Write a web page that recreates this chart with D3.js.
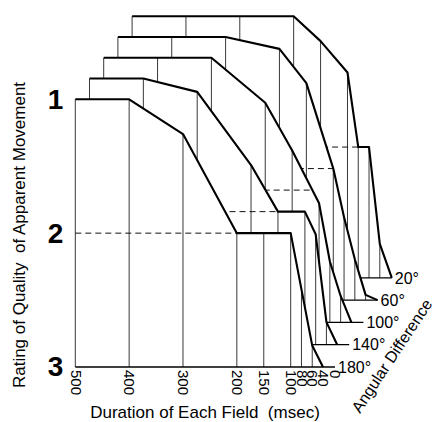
<!DOCTYPE html>
<html>
<head>
<meta charset="utf-8">
<script src="https://cdn.jsdelivr.net/npm/d3@7/dist/d3.min.js"></script>
<style>
	body { margin: 0; background: #fff; }
	svg text { font-family: "Liberation Sans", Arial, Helvetica, sans-serif; fill: #000; }
</style>
</head>
<body>
<div id="chart"></div>
<script>
// 데이터: 지속시간(msec)과 각도별 평정값 (1 = 좋음, 3 = 나쁨)
const durations = [500, 400, 300, 200, 150, 100, 80, 60, 40, 0];
const durationLabels = ["500", "400", "300", "200", "150", "100", "80", "60", "40", "0"];
const angleLabels = ["180°", "140°", "100°", "60°", "20°"]; // 앞 → 뒤
const rating180 = [1, 1, 1.26, 2, 2, 2, 2.42, 2.84, 3, 3];
const rating140 = [1, 1, 1.1, 1.65, 2, 2, 2.17, 2.83, 3, 3];
const rating100 = [1, 1, 1, 1.34, 1.7, 2.1, 2.54, 2.8, 3, 3];
const rating60 = [1, 1, 1, 1.09, 1.35, 2.0, 2.37, 2.69, 2.96, 3];
const rating20 = [1, 1, 1, 1, 1.19, 1.43, 2, 2, 2.74, 3];
const ratingTicks = [1, 2, 3];

const seriesRatings = [rating180, rating140, rating100, rating60, rating20];

const width = 442, height = 422;

const svg = d3.select("#chart").append("svg")
	.attr("width", width)
	.attr("height", height);

// 앞면 기준 축척
const xFront = d3.scaleLinear().domain([500, 40, 0]).range([75.3, 323, 335]);
const yFront = d3.scaleLinear().domain([1, 3]).range([99.3, 367]);

// 깊이(뒤로 갈수록) 이동량
const depthDx = 14.2;
const depthDyTop = -20.75;
const depthDyBase = -22.3;

function xOf(k) {
	return d => xFront(d) + k * depthDx;
}
function yOf(k) {
	return d3.scaleLinear().domain([1, 3])
		.range([yFront(1) + k * depthDyTop, yFront(3) + k * depthDyBase]);
}

// 뒤쪽부터 그려서 앞면이 가리도록
for (let k = seriesRatings.length - 1; k >= 0; k--) {
	const ratings = seriesRatings[k];
	const xs = xOf(k);
	const ys = yOf(k);
	const pts = durations.map((d, i) => ({ d, r: ratings[i] }));
	const g = svg.append("g").attr("class", "series");

	// 흰 면
	g.append("path")
		.datum(pts)
		.attr("fill", "#fff")
		.attr("stroke", "none")
		.attr("d", d3.area().x(p => xs(p.d)).y0(ys(3)).y1(p => ys(p.r)));

	// 세로선
	g.selectAll("line.drop")
		.data(pts.filter(p => p.r < 3))
		.join("line")
		.attr("class", "drop")
		.attr("x1", p => xs(p.d))
		.attr("x2", p => xs(p.d))
		.attr("y1", ys(3))
		.attr("y2", p => ys(p.r))
		.attr("stroke", "#222")
		.attr("stroke-width", 0.9);

	// 평정 2 점선: 곡선이 2에 닿는 곳까지
	let i2 = ratings.findIndex(r => r >= 2);
	let d2 = durations[i2];
	if (i2 > 0 && ratings[i2 - 1] < 2) {
		const t = (2 - ratings[i2 - 1]) / (ratings[i2] - ratings[i2 - 1]);
		d2 = durations[i2 - 1] + t * (durations[i2] - durations[i2 - 1]);
	}
	g.append("line")
		.attr("x1", xs(500))
		.attr("x2", xs(d2))
		.attr("y1", ys(2))
		.attr("y2", ys(2))
		.attr("stroke", "#111")
		.attr("stroke-width", 1)
		.attr("stroke-dasharray", "6,4");

	// 바닥선 (라벨까지)
	g.append("line")
		.attr("x1", xs(500))
		.attr("x2", xs(0))
		.attr("y1", ys(3))
		.attr("y2", ys(3))
		.attr("stroke", "#000")
		.attr("stroke-width", 1.3);

	// 굵은 곡선: 처음 3에 닿는 점까지
	const i3 = ratings.indexOf(3);
	g.append("path")
		.datum(pts.slice(0, i3 + 1))
		.attr("fill", "none")
		.attr("stroke", "#000")
		.attr("stroke-width", 2.1)
		.attr("stroke-linejoin", "round")
		.attr("d", d3.line().x(p => xs(p.d)).y(p => ys(p.r)));

	// 각도 라벨
	g.append("text")
		.attr("x", xs(0) + 3)
		.attr("y", ys(3))
		.attr("dy", "0.36em")
		.style("font-size", "16px")
		.text(angleLabels[k]);
}

// x축 눈금 라벨 (세로로 회전)
const xAxis = svg.append("g")
	.attr("transform", `translate(0, ${yFront(3)})`)
	.call(d3.axisBottom(xFront)
		.tickValues(durations)
		.tickFormat((d, i) => durationLabels[i])
		.tickSize(0));
xAxis.select(".domain").remove();
xAxis.attr("font-family", null).attr("font-size", null);
xAxis.selectAll("text")
	.attr("y", 0)
	.attr("x", 3)
	.attr("dy", "0.35em")
	.attr("text-anchor", "start")
	.attr("transform", "rotate(90)")
	.style("font-size", "15px");

// y축 눈금 라벨
const yAxis = svg.append("g")
	.attr("transform", `translate(${xFront(500)}, 0)`)
	.call(d3.axisLeft(yFront)
		.tickValues(ratingTicks)
		.tickFormat(d3.format("d"))
		.tickSize(0)
		.tickPadding(12));
yAxis.select(".domain").remove();
yAxis.attr("font-family", null).attr("font-size", null);
yAxis.selectAll("text")
	.style("font-size", "28px")
	.style("font-weight", "bold");

// 축 제목
svg.append("text")
	.attr("transform", "translate(25, 235) rotate(-90)")
	.attr("text-anchor", "middle")
	.style("font-size", "17px")
	.style("white-space", "pre")
	.text("Rating of Quality  of Apparent Movement");

svg.append("text")
	.attr("x", 205)
	.attr("y", 418)
	.attr("text-anchor", "middle")
	.style("font-size", "17px")
	.style("white-space", "pre")
	.text("Duration of Each Field  (msec)");

svg.append("text")
	.attr("transform", "translate(360, 414) rotate(-56.5)")
	.style("font-size", "16px")
	.text("Angular Difference");
</script>
</body>
</html>
